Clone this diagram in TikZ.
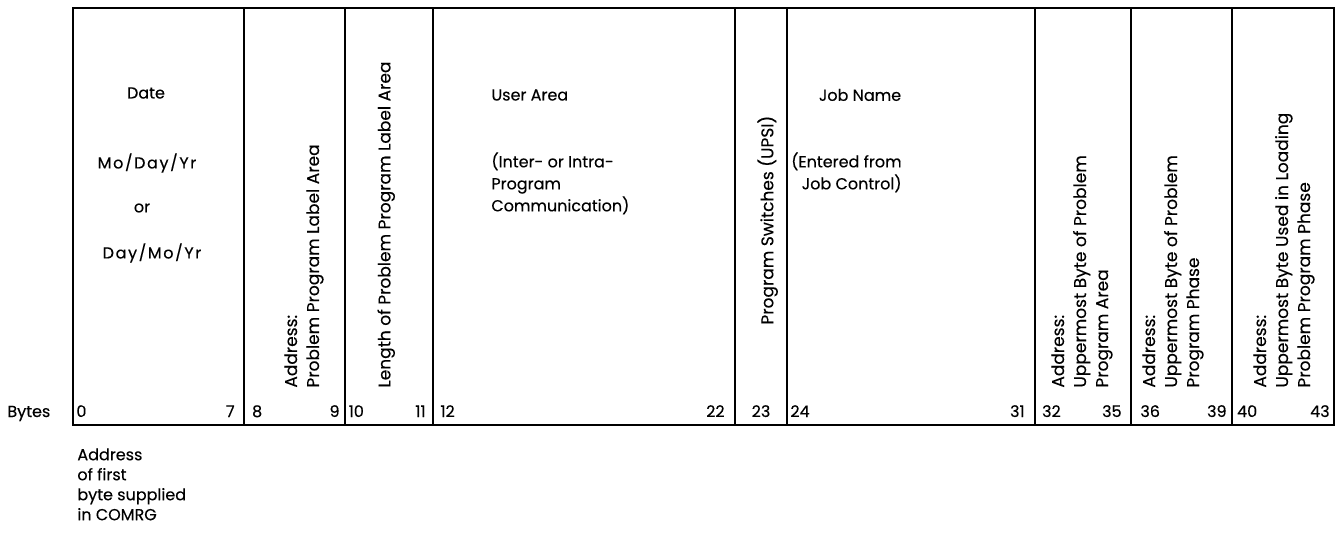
\documentclass[tikz,border=0pt]{standalone}
\usepackage{fontspec}
\setmainfont{Poppins}[FakeBold=0.3]
\begin{document}
\begin{tikzpicture}[x=0.5pt,y=-0.5pt,
    txt/.style={inner sep=0pt, font=\fontsize{8}{11}\selectfont},
    vtxt/.style={inner sep=0pt, font=\fontsize{8.5}{11}\selectfont, rotate=90, anchor=north west, align=left},
    wide/.style={txt, font=\fontsize{8}{11}\selectfont\addfontfeatures{LetterSpace=10}},
    num/.style={inner sep=0pt, font=\fontsize{8}{10}\selectfont}]
    \useasboundingbox (0,0) rectangle (1336,533);

    % frame and field borders
    \draw[line width=1pt] (72.7,8.3) rectangle (1334,425);
    \foreach \x in {243.7,345,433.3,735,786.7,1035,1131,1232}
        \draw[line width=1pt] (\x,8.3) -- (\x,425);

    % byte numbers
    \node[num, anchor=base west] (bytes) at (7,417) {Bytes};
    \foreach \x/\n/\a in {76/0/base west, 235/7/base east, 251.7/8/base west, 340/9/base east,
        348.3/10/base west, 426/11/base east, 440/12/base west, 725/22/base east,
        761/23/base, 790/24/base west, 1025/31/base east, 1041.7/32/base west,
        1122/35/base east, 1140/36/base west, 1227/39/base east, 1236.7/40/base west,
        1330/43/base east}
        \node[num, anchor=\a] (n\n) at (\x,417) {\n};

    % date field
    \node[txt] (date) at (146,93) {Date};
    \node[wide] (mdy) at (147,163) {Mo/Day/Yr};
    \node[txt] (or) at (142,208) {or};
    \node[wide] (dmy) at (152,253) {Day/Mo/Yr};

    % user area and job name
    \node[txt, anchor=west] (user) at (491,95) {User Area};
    \node[txt, anchor=north west, align=left] (comm) at (491,152) {(Inter- or Intra-\\Program\\Communication)};
    \node[txt] (job) at (860,95) {Job Name};
    \node[txt, anchor=north east, align=right] (jobsrc) at (902,152) {(Entered from\\Job Control)};

    % rotated fields
    \node[vtxt] (addrlbl) at (284,388) {Address:\\Problem Program Label Area};
    \node[vtxt] (lenlbl) at (377,388) {Length of Problem Program Label Area};
    \node[vtxt] (upsi) at (757,325) {Program Switches (UPSI)};
    \node[vtxt] (ppa) at (1051,388) {Address:\\Uppermost Byte of Problem\\Program Area};
    \node[vtxt] (ppp) at (1142,388) {Address:\\Uppermost Byte of Problem\\Program Phase};
    \node[vtxt] (lpp) at (1253,388) {Address:\\Uppermost Byte Used in Loading\\Problem Program Phase};

    % note below
    \node[txt, anchor=north west, align=left, font=\fontsize{8}{10}\selectfont] (comrg) at (77,448) {Address\\of first\\byte supplied\\in COMRG};
\end{tikzpicture}
\end{document}
